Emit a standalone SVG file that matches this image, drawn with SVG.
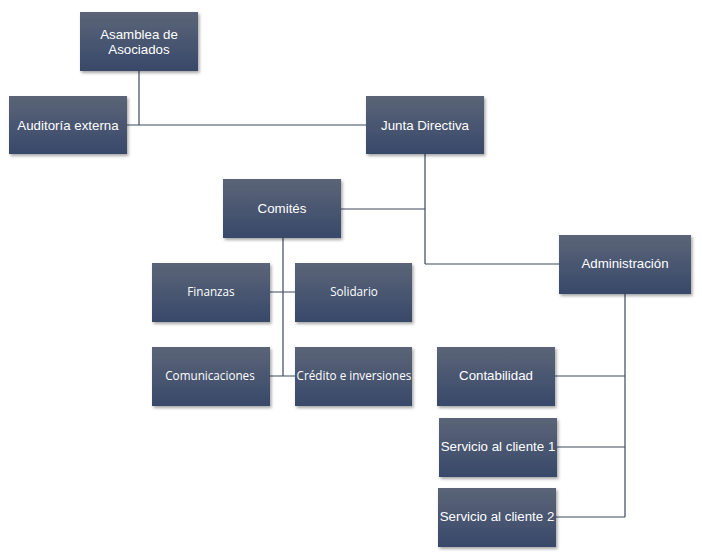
<svg xmlns="http://www.w3.org/2000/svg" width="702" height="556" viewBox="0 0 702 556">
<style>
.box{fill:url(#g);filter:url(#sh)}
.t{font-family:"Liberation Sans",Arial,sans-serif;font-size:13.3px;fill:#fff;text-anchor:middle}
.s{font-family:"Open Sans","Noto Sans",sans-serif;font-size:11.7px;fill:#fff;text-anchor:middle}
.c{stroke:#3f4a5c;stroke-width:1.2;fill:none}
</style>
<defs>
<linearGradient id="g" x1="0" y1="0" x2="0" y2="1">
<stop offset="0" stop-color="#5b6577"/>
<stop offset="1" stop-color="#38486a"/>
</linearGradient>
<filter id="sh" x="-10%" y="-10%" width="125%" height="130%">
<feDropShadow dx="1.5" dy="2" stdDeviation="1.5" flood-color="#000" flood-opacity="0.35"/>
</filter>
</defs>
<g id="connectors">
<path class="c" d="M139 71V125M127 125H366"/>
<path class="c" d="M425 154V264M341 209H425M425 264H559"/>
<path class="c" d="M283 238V376M270 292H295M270 376H295"/>
<path class="c" d="M625 294V517M555 376H625M557 447H625M556 517H625"/>
</g>
<g id="asamblea"><rect class="box" x="80" y="12" width="118" height="59"/><text class="t" x="139" y="39">Asamblea de</text><text class="t" x="139" y="54">Asociados</text></g>
<g id="auditoria"><rect class="box" x="9" y="96" width="118" height="58"/><text class="t" x="68" y="130">Auditoría externa</text></g>
<g id="junta"><rect class="box" x="366" y="96" width="118" height="58"/><text class="t" x="425" y="130">Junta Directiva</text></g>
<g id="comites"><rect class="box" x="223" y="179" width="118" height="59"/><text class="t" x="282" y="213">Comités</text></g>
<g id="administracion"><rect class="box" x="559" y="235" width="132" height="59"/><text class="t" x="625" y="268">Administración</text></g>
<g id="finanzas"><rect class="box" x="152" y="263" width="118" height="59"/><text class="s" x="211" y="296">Finanzas</text></g>
<g id="solidario"><rect class="box" x="295" y="263" width="117" height="59"/><text class="s" x="354" y="296">Solidario</text></g>
<g id="comunicaciones"><rect class="box" x="152" y="347" width="118" height="59"/><text class="s" x="210" y="380">Comunicaciones</text></g>
<g id="credito"><rect class="box" x="295" y="347" width="117" height="59"/><text class="s" x="354" y="380">Crédito e inversiones</text></g>
<g id="contabilidad"><rect class="box" x="437" y="347" width="118" height="59"/><text class="t" x="496" y="380">Contabilidad</text></g>
<g id="servicio1"><rect class="box" x="439" y="418" width="118" height="59"/><text class="t" x="498" y="451">Servicio al cliente 1</text></g>
<g id="servicio2"><rect class="box" x="438" y="488" width="118" height="59"/><text class="t" x="497" y="521">Servicio al cliente 2</text></g>
</svg>
